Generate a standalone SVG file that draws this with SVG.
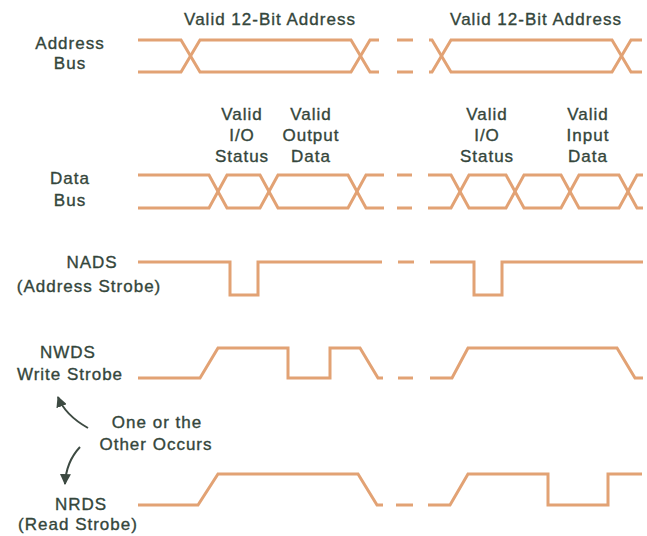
<svg xmlns="http://www.w3.org/2000/svg" width="647" height="536" viewBox="0 0 647 536">
<style>
.sig{fill:none;stroke:#e2a274;stroke-width:3;stroke-linejoin:miter;stroke-linecap:butt}
.t{font-family:"Liberation Sans",Arial,sans-serif;font-size:17px;letter-spacing:1px;fill:#34463b;stroke:#34463b;stroke-width:0.35;text-anchor:middle}
.arr{fill:none;stroke:#3d4a42;stroke-width:2}
</style>
<defs>
<marker id="ah" viewBox="0 0 10 10" refX="9" refY="5" markerWidth="5.5" markerHeight="5.5" orient="auto" markerUnits="strokeWidth">
<path d="M0,0 L10,5 L0,10 z" fill="#3d4a42"/>
</marker>
</defs>
<rect width="647" height="536" fill="#ffffff"/>

<g id="labels">
<text class="t" x="270" y="25">Valid 12-Bit Address</text>
<text class="t" x="536" y="25">Valid 12-Bit Address</text>
<text class="t" x="242" y="120">Valid</text>
<text class="t" x="242" y="141">I/O</text>
<text class="t" x="242" y="162">Status</text>
<text class="t" x="311" y="120">Valid</text>
<text class="t" x="311" y="141">Output</text>
<text class="t" x="311" y="162">Data</text>
<text class="t" x="487" y="120">Valid</text>
<text class="t" x="487" y="141">I/O</text>
<text class="t" x="487" y="162">Status</text>
<text class="t" x="588" y="120">Valid</text>
<text class="t" x="588" y="141">Input</text>
<text class="t" x="588" y="162">Data</text>
</g>

<g id="address-bus">
<text class="t" x="70" y="49">Address</text>
<text class="t" x="70" y="69">Bus</text>
<path class="sig" d="M138,40 H181 L200,72 H351 L370,40 H379"/>
<path class="sig" d="M138,72 H181 L200,40 H351 L370,72 H379"/>
<path class="sig" d="M397,40 H413 M397,72 H413"/>
<path class="sig" d="M429,40 H432 L451,72 H612 L631,40 H642"/>
<path class="sig" d="M429,72 H432 L451,40 H612 L631,72 H642"/>
</g>

<g id="data-bus">
<text class="t" x="70" y="184">Data</text>
<text class="t" x="70" y="206">Bus</text>
<path class="sig" d="M138,175 H209 L227,208 H260 L278,175 H348 L366,208 H384"/>
<path class="sig" d="M138,208 H209 L227,175 H260 L278,208 H348 L366,175 H384"/>
<path class="sig" d="M397,175 H412 M397,208 H412"/>
<path class="sig" d="M428,175 H451 L469,208 H506 L524,175 H561 L579,208 H619 L637,175 H643"/>
<path class="sig" d="M428,208 H451 L469,175 H506 L524,208 H561 L579,175 H619 L637,208 H643"/>
</g>

<g id="nads">
<text class="t" x="92" y="268">NADS</text>
<text class="t" x="89" y="292">(Address Strobe)</text>
<path class="sig" d="M138,262 H230 V295 H258 V262 H382"/>
<path class="sig" d="M398,262 H414"/>
<path class="sig" d="M430,262 H474 V295 H502 V262 H643"/>
</g>

<g id="nwds">
<text class="t" x="68" y="358">NWDS</text>
<text class="t" x="70" y="380">Write Strobe</text>
<path class="sig" d="M138,378 H200 L218,348 H288 V378 H330 V348 H360 L378,378 H383"/>
<path class="sig" d="M398,378 H413"/>
<path class="sig" d="M430,378 H452 L468,348 H617 L635,378 H643"/>
</g>

<g id="nrds">
<text class="t" x="81" y="510">NRDS</text>
<text class="t" x="78" y="530">(Read Strobe)</text>
<path class="sig" d="M138,505 H198 L218,474 H358 L377,505 H383"/>
<path class="sig" d="M396,505 H413"/>
<path class="sig" d="M428,505 H450 L468,474 H548 V505 H608 V474 H642"/>
</g>

<g id="note">
<text class="t" x="157" y="428">One or the</text>
<text class="t" x="156" y="450">Other Occurs</text>
</g>

<g id="connectors">
<path class="arr" d="M88,428 Q65,415 58,397" marker-end="url(#ah)"/>
<path class="arr" d="M80,447 Q66,462 65,484" marker-end="url(#ah)"/>
</g>
</svg>
